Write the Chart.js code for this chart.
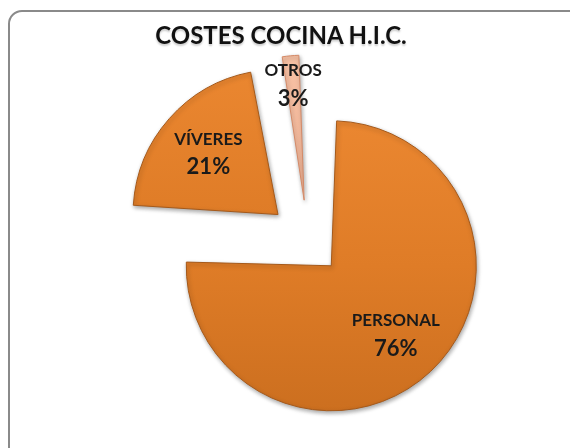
<!DOCTYPE html>
<html>
<head>
<meta charset="utf-8">
<script src="https://cdn.jsdelivr.net/npm/chart.js@4"></script>
<style>
  html, body { margin: 0; padding: 0; background: #fff; overflow: hidden; }
  #wrap { position: relative; width: 570px; height: 448px; }
  #frame {
    position: absolute; left: 8px; top: 10px; width: 580px; height: 455px;
    border: 2px solid #8a8a8a; border-radius: 14px; box-sizing: border-box;
  }
  #title {
    position: absolute; left: 0; top: 20px; width: 562px; text-align: center;
    font: bold 24px Lato, sans-serif; color: #111;
    text-shadow: 0 2px 2px rgba(0, 0, 0, 0.2);
  }
  #box { position: absolute; left: 0; top: 0; width: 570px; height: 448px; }
</style>
</head>
<body>
<div id="wrap">
  <div id="frame"></div>
  <div id="box"><canvas id="pieChart"></canvas></div>
  <div id="title">COSTES COCINA H.I.C.</div>
</div>
<script>
const categories = ["PERSONAL", "VÍVERES", "OTROS"];
const values = [76, 21, 3];
const percentLabels = ["76%", "21%", "3%"];

// how far each slice is pulled out of the pie (Chart.js moves it offset/4 px)
const explode = [136, 160, 164];
// where the label sits along the slice, as a share of the radius
const labelDist = [0.65, 0.64, 0.8];

function sliceFill(ctx) {
  const chart = ctx.chart;
  const area = chart.chartArea;
  const light = ctx.dataIndex === 2;
  if (!area) return light ? "#F3B596" : "#E07D2A";
  const g = chart.ctx.createLinearGradient(0, area.top, 0, area.bottom);
  if (light) {
    g.addColorStop(0, "#F7C4A8");
    g.addColorStop(1, "#EFA585");
  } else {
    g.addColorStop(0, "#EE8A33");
    g.addColorStop(0.5, "#DF7C27");
    g.addColorStop(1, "#C66B1D");
  }
  return g;
}

// keep every slice at the same radius after it is exploded
const keepRadius = {
  id: "keepRadius",
  afterDatasetUpdate(chart, args) {
    args.meta.data.forEach((arc) => {
      const off = (arc.options.offset || 0) / 4;
      const fix = 1 - Math.sin(Math.min(Math.PI, arc.circumference));
      arc.outerRadius -= off * fix;
    });
  },
};

const sliceShadow = {
  id: "sliceShadow",
  beforeDatasetsDraw(chart) {
    const c = chart.ctx;
    c.save();
    c.shadowColor = "rgba(0, 0, 0, 0.35)";
    c.shadowBlur = 4;
    c.shadowOffsetX = 1;
    c.shadowOffsetY = 2;
  },
  afterDatasetsDraw(chart) {
    chart.ctx.restore();
  },
};

const sliceLabels = {
  id: "sliceLabels",
  afterDraw(chart) {
    const c = chart.ctx;
    const meta = chart.getDatasetMeta(0);
    c.save();
    c.textAlign = "center";
    c.textBaseline = "middle";
    c.fillStyle = "#1a1a1a";
    meta.data.forEach((arc, i) => {
      const mid = (arc.startAngle + arc.endAngle) / 2;
      const off = (arc.options.offset || 0) / 4;
      const r = meta.controller.outerRadius * labelDist[i];
      const x = arc.x + Math.cos(mid) * (off + r);
      const y = arc.y + Math.sin(mid) * (off + r);
      c.font = "bold 17px Lato, sans-serif";
      c.fillText(categories[i], x, y - 14);
      c.font = "bold 22px Lato, sans-serif";
      c.fillText(percentLabels[i], x, y + 14);
    });
    c.restore();
  },
};

const ctx = document.getElementById("pieChart").getContext("2d");

new Chart(ctx, {
  type: "pie",
  data: {
    labels: categories,
    datasets: [
      {
        data: values,
        backgroundColor: sliceFill,
        borderColor: ["#A5591A", "#A5591A", "#D48A68"],
        borderWidth: 1,
        offset: explode,
        hoverOffset: 0,
      },
    ],
  },
  options: {
    responsive: true,
    maintainAspectRatio: false,
    animation: false,
    events: [],
    radius: 145,
    layout: {
      padding: { top: 50, bottom: 16, left: 58, right: 12 },
    },
    plugins: {
      legend: { display: false },
      tooltip: { enabled: false },
      title: { display: false },
    },
  },
  plugins: [keepRadius, sliceShadow, sliceLabels],
});
</script>
</body>
</html>
